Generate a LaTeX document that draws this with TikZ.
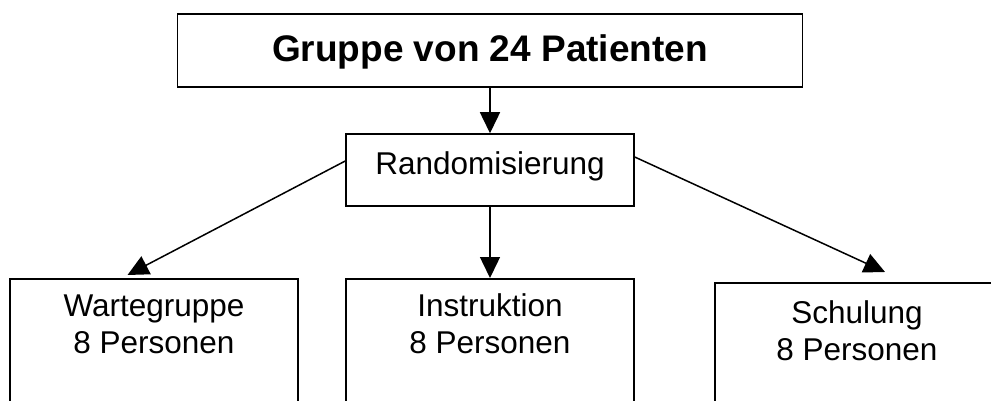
\documentclass[tikz,border=0pt]{standalone}
\usepackage{fontspec}
\setmainfont{Liberation Sans}
\usetikzlibrary{arrows.meta}
\tikzset{
  boxstyle/.style={draw=black, line width=1.5pt, fill=white, inner sep=0pt},
  txt/.style={inner sep=0pt, font=\fontsize{31.5}{37}\selectfont, align=center},
  arr/.style={draw=black, line width=1.5pt, -{Triangle[length=21pt,width=20pt]}}
}
\begin{document}
\begin{tikzpicture}[x=1pt,y=-1pt]
\useasboundingbox (0,0) rectangle (991,401);
\clip (0,0) rectangle (991,401);
\fill[white] (0,0) rectangle (991,401);
% top box
\node[boxstyle, minimum width=625pt, minimum height=73pt] (top) at (490,50.5) {};
\node[inner sep=0pt, anchor=base, font=\fontsize{37}{44}\selectfont\bfseries] (toptext) at (490,62) {Gruppe von 24 Patienten};
% randomisation
\node[boxstyle, minimum width=288pt, minimum height=72pt] (rand) at (490,170) {};
\node[txt, anchor=base] (randtext) at (490,174.3) {Randomisierung};
% bottom boxes (cut by the lower edge)
\node[boxstyle, minimum width=288pt, minimum height=160pt, anchor=north] (wart) at (154,278) {};
\node[boxstyle, minimum width=288pt, minimum height=160pt, anchor=north] (instr) at (490,278) {};
\node[boxstyle, minimum width=288pt, minimum height=160pt, anchor=north] (schul) at (859,282) {};
\node[txt] (warttext) at (154,324.2) {Wartegruppe\\8 Personen};
\node[txt] (instrtext) at (490,324.2) {Instruktion\\8 Personen};
\node[txt] (schultext) at (857,330.5) {Schulung\\8 Personen};
% connector ends
\coordinate (lstart) at ([yshift=9pt]rand.west);
\coordinate (ltip) at ([xshift=-26.5pt,yshift=3pt]wart.north);
\coordinate (rstart) at ([yshift=13pt]rand.east);
\coordinate (rtip) at ([xshift=26pt,yshift=10pt]schul.north);
% connectors
\draw[arr] (top.south) -- (rand.north);
\draw[arr] (rand.south) -- (instr.north);
\draw[arr] (lstart) -- (ltip);
\draw[arr] (rstart) -- (rtip);
\end{tikzpicture}
\end{document}
